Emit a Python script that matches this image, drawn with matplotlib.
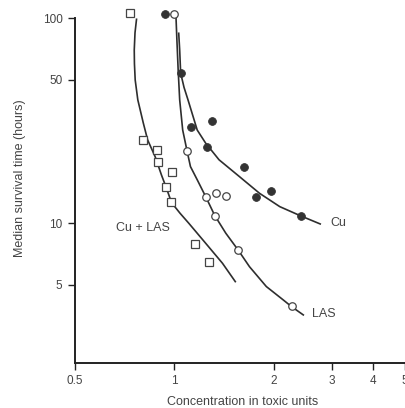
import matplotlib
matplotlib.use("Agg")
import matplotlib.pyplot as plt

# ---- data ----
# Cu + LAS (open squares)
mix_x = [0.736, 0.805, 0.885, 0.891, 0.981, 0.945, 0.979, 1.154, 1.274]
mix_y = [105.8, 25.5, 22.7, 19.9, 17.8, 15.0, 12.7, 7.95, 6.47]
# LAS (open circles)
las_x = [0.995, 1.093, 1.244, 1.341, 1.432, 1.326, 1.56, 2.28]
las_y = [104.6, 22.6, 13.5, 14.0, 13.6, 10.9, 7.41, 3.95]
# Cu (filled circles)
cu_x = [0.938, 1.048, 1.127, 1.298, 1.256, 1.622, 1.968, 1.77, 2.42]
cu_y = [104.6, 53.9, 29.5, 31.7, 23.6, 18.9, 14.4, 13.4, 10.9]

# fitted curves
mix_cx = [0.768, 0.760, 0.756, 0.757, 0.761, 0.775, 0.805, 0.830, 0.875, 0.914, 0.944, 0.981, 1.040, 1.106, 1.244, 1.399, 1.530]
mix_cy = [98.9, 85.0, 70.0, 60.0, 50.0, 40.0, 30.9, 25.5, 21.1, 17.2, 15.0, 12.6, 11.2, 10.0, 7.99, 6.38, 5.19]
las_cx = [1.011, 1.018, 1.027, 1.038, 1.060, 1.093, 1.119, 1.173, 1.244, 1.326, 1.432, 1.56, 1.689, 1.900, 2.136, 2.265, 2.459]
las_cy = [103.8, 78.4, 56.0, 40.0, 28.5, 22.5, 18.9, 16.3, 13.5, 10.9, 8.94, 7.41, 6.14, 4.91, 4.23, 3.92, 3.57]
cu_cx = [1.031, 1.038, 1.045, 1.070, 1.100, 1.173, 1.244, 1.366, 1.574, 1.812, 2.087, 2.403, 2.767]
cu_cy = [84.5, 70.0, 54.1, 46.0, 40.0, 28.5, 24.6, 20.4, 16.9, 14.0, 12.05, 10.9, 9.92]

xticks = [0.5, 1, 2, 3, 4, 5]
xticklabels = ["0.5", "1", "2", "3", "4", "5"]
yticks = [5, 10, 50, 100]
yticklabels = ["5", "10", "50", "100"]

plt.rcParams['font.family'] = ['Liberation Sans', 'DejaVu Sans']
TXT = "#444444"

fig = plt.figure(figsize=(4.05, 4.08), dpi=100)
ax = fig.add_axes([75/405, 45/408, 330/405, (363-18.3)/408])
ax.set_xscale('log')
ax.set_yscale('log')
ax.set_xlim(0.5, 5.0)
ax.set_ylim(2.08, 100)

lc = "#2e2e2e"
ax.plot(mix_cx, mix_cy, color=lc, lw=1.2, clip_on=False, solid_joinstyle='round')
ax.plot(las_cx, las_cy, color=lc, lw=1.2, clip_on=False, solid_joinstyle='round')
ax.plot(cu_cx, cu_cy, color=lc, lw=1.2, clip_on=False, solid_joinstyle='round')

ax.plot(mix_x, mix_y, ls='none', marker='s', ms=5.4, mfc='white', mec='#444444', mew=0.9, clip_on=False)
ax.plot(las_x, las_y, ls='none', marker='o', ms=5.4, mfc='white', mec='#444444', mew=0.9, clip_on=False)
ax.plot(cu_x, cu_y, ls='none', marker='o', ms=5.6, mfc='#333333', mec='#333333', mew=0.6, clip_on=False)

ax.text(0.806, 9.49, "Cu + LAS", ha='center', va='center', fontsize=9, color=TXT)
ax.text(2.61, 3.60, "LAS", ha='left', va='center', fontsize=9, color=TXT)
ax.text(2.98, 10.07, "Cu", ha='left', va='center', fontsize=9, color=TXT)

for s in ['top', 'right']:
    ax.spines[s].set_visible(False)
for s in ['left', 'bottom']:
    ax.spines[s].set_linewidth(1.4)
    ax.spines[s].set_color('#222222')

ax.set_xticks(xticks)
ax.set_xticklabels(xticklabels)
ax.set_yticks(yticks)
ax.set_yticklabels(yticklabels)
ax.minorticks_off()
ax.tick_params(axis='both', direction='out', length=5, width=1.0, color='#222222',
               labelsize=8.5, labelcolor=TXT, pad=4)

ax.set_xlabel("Concentration in toxic units", fontsize=9, color=TXT)
ax.xaxis.set_label_coords(0.508, -0.097)
ax.set_ylabel("Median survival time (hours)", fontsize=9, color=TXT)
ax.yaxis.set_label_coords(-0.147, 0.535)

fig.savefig("out.png", dpi=100)
